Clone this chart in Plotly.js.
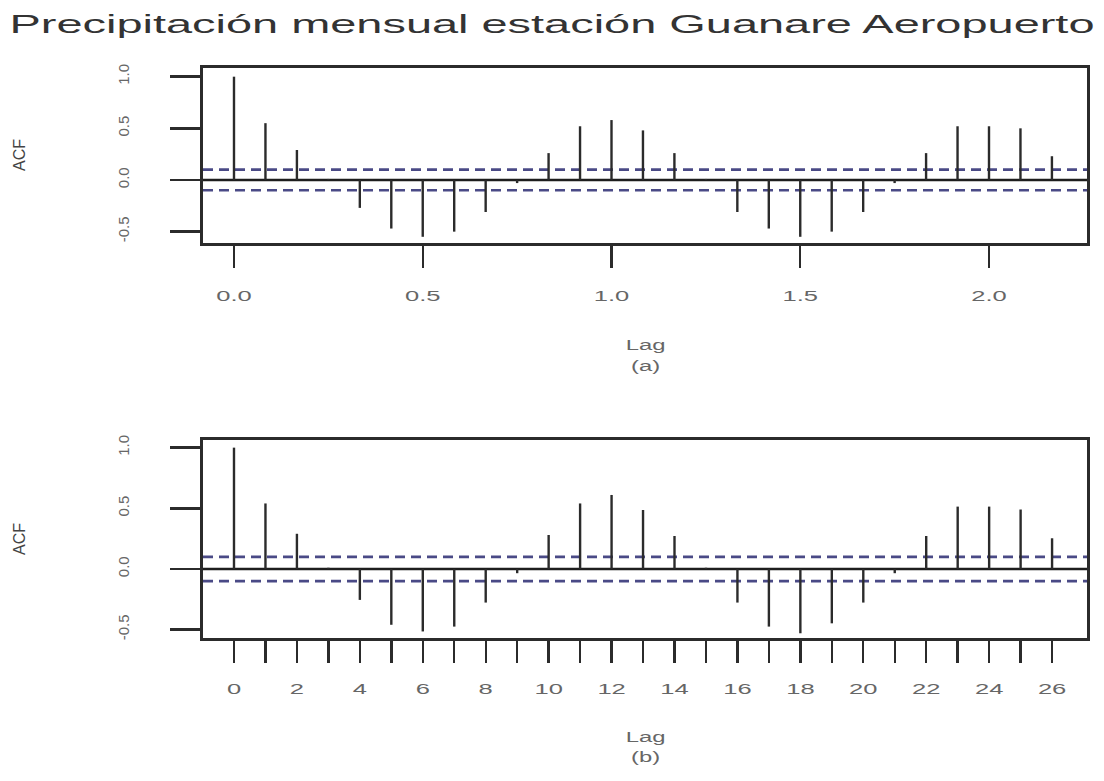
<!DOCTYPE html>
<html>
<head>
<meta charset="utf-8">
<script src="https://cdn.plot.ly/plotly-3.0.1.min.js"></script>
<style>
  html, body { margin: 0; padding: 0; background: #ffffff; }
  #chart { width: 1104px; height: 781px; }
</style>
</head>
<body>
<div id="chart"></div>
<script>
// ---- data ----
const chartTitle = "Precipitación mensual estación Guanare Aeropuerto";
const lagsMonths = [0, 1, 2, 3, 4, 5, 6, 7, 8, 9, 10, 11, 12, 13, 14, 15, 16, 17, 18, 19, 20, 21, 22, 23, 24, 25, 26];
const monthsPerYear = 12;
// panel (a): lag in years
const acfA = [1.00, 0.55, 0.29, 0.01, -0.27, -0.47, -0.55, -0.50, -0.31, -0.03, 0.26, 0.52, 0.58, 0.48, 0.26, 0.01, -0.31, -0.47, -0.55, -0.50, -0.31, -0.03, 0.26, 0.52, 0.52, 0.50, 0.23];
// panel (b): lag in months
const acfB = [1.00, 0.54, 0.29, 0.01, -0.255, -0.46, -0.515, -0.475, -0.277, -0.035, 0.28, 0.54, 0.61, 0.486, 0.272, 0.01, -0.277, -0.475, -0.53, -0.448, -0.277, -0.035, 0.272, 0.514, 0.514, 0.49, 0.253];
const ciA = 0.10;
const ciB = 0.10;
const yTickVals = [-0.5, 0.0, 0.5, 1.0];
const yTickText = ["-0.5", "0.0", "0.5", "1.0"];
const xTickValsA = [0.0, 0.5, 1.0, 1.5, 2.0];
const xTickTextA = ["0.0", "0.5", "1.0", "1.5", "2.0"];
const xTickTextB = lagsMonths.map(l => (l % 2 === 0 ? String(l) : ""));
const xLabel = "Lag";
const yLabel = "ACF";
const panelLabels = ["(a)", "(b)"];

// ---- helpers ----
function spikes(xs, ys) {
  const X = [], Y = [];
  xs.forEach((x, i) => { X.push(x, x, null); Y.push(0, ys[i], null); });
  return { X, Y };
}

const W = 1104, H = 781;
const px = v => v / W;
const py = v => 1 - v / H;

const sA = spikes(lagsMonths.map(l => l / monthsPerYear), acfA);
const sB = spikes(lagsMonths, acfB);

const spikeLine = { color: '#2b2b2b', width: 2.4 };
const data = [
  { type: 'scatter', mode: 'lines', x: sA.X, y: sA.Y, xaxis: 'x', yaxis: 'y', line: spikeLine, hoverinfo: 'skip', showlegend: false },
  { type: 'scatter', mode: 'lines', x: sB.X, y: sB.Y, xaxis: 'x2', yaxis: 'y2', line: spikeLine, hoverinfo: 'skip', showlegend: false }
];

const font = { family: 'Liberation Sans, Arial, sans-serif', color: '#555555' };
const axisLine = { showline: true, linecolor: '#2b2b2b', linewidth: 2.6, mirror: true, showgrid: false, zeroline: false };

const ciStyle = { color: '#4a4a86', width: 2.6, dash: '10px,6px' };
const shapes = [
  { type: 'line', xref: 'x domain', yref: 'y', x0: 0, x1: 1, y0: ciA, y1: ciA, line: ciStyle, layer: 'below' },
  { type: 'line', xref: 'x domain', yref: 'y', x0: 0, x1: 1, y0: -ciA, y1: -ciA, line: ciStyle, layer: 'below' },
  { type: 'line', xref: 'x domain', yref: 'y', x0: 0, x1: 1, y0: 0, y1: 0, line: { color: '#1e1e1e', width: 2.4 }, layer: 'below' },
  { type: 'line', xref: 'x2 domain', yref: 'y2', x0: 0, x1: 1, y0: ciB, y1: ciB, line: ciStyle, layer: 'below' },
  { type: 'line', xref: 'x2 domain', yref: 'y2', x0: 0, x1: 1, y0: -ciB, y1: -ciB, line: ciStyle, layer: 'below' },
  { type: 'line', xref: 'x2 domain', yref: 'y2', x0: 0, x1: 1, y0: 0, y1: 0, line: { color: '#1e1e1e', width: 2.4 }, layer: 'below' }
];

const annFont = { family: 'Liberation Sans, Arial, sans-serif', size: 14, color: '#666666' };
const annotations = [
  { text: yLabel, xref: 'paper', yref: 'paper', x: px(19), y: py(155), showarrow: false, textangle: -90, font: { ...annFont, size: 16, color: '#444' }, xanchor: 'center', yanchor: 'middle' },
  { text: yLabel, xref: 'paper', yref: 'paper', x: px(19), y: py(539), showarrow: false, textangle: -90, font: { ...annFont, size: 16, color: '#444' }, xanchor: 'center', yanchor: 'middle' },
  { text: xLabel, xref: 'paper', yref: 'paper', x: px(645), y: py(345), showarrow: false, font: annFont, xanchor: 'center', yanchor: 'middle' },
  { text: panelLabels[0], xref: 'paper', yref: 'paper', x: px(645), y: py(366), showarrow: false, font: annFont, xanchor: 'center', yanchor: 'middle' },
  { text: xLabel, xref: 'paper', yref: 'paper', x: px(645), y: py(737), showarrow: false, font: annFont, xanchor: 'center', yanchor: 'middle' },
  { text: panelLabels[1], xref: 'paper', yref: 'paper', x: px(645), y: py(757), showarrow: false, font: annFont, xanchor: 'center', yanchor: 'middle' }
];

const tickFont = { family: 'Liberation Sans, Arial, sans-serif', size: 15, color: '#666666' };

const layout = {
  width: W, height: H, autosize: false,
  margin: { l: 0, r: 0, t: 0, b: 0, pad: 0 },
  paper_bgcolor: '#ffffff', plot_bgcolor: '#ffffff',
  font: font,
  showlegend: false,
  title: { text: chartTitle, x: 0.5, xanchor: 'center', xref: 'container', y: 1 - 24 / H, yanchor: 'middle', yref: 'container',
           font: { family: 'Liberation Sans, Arial, sans-serif', size: 25, color: '#333333' } },
  xaxis: { ...axisLine, domain: [px(203), px(1087)], range: [-0.0821, 2.2596], anchor: 'y',
           tickmode: 'array', tickvals: xTickValsA, ticktext: xTickTextA,
           ticks: 'outside', ticklen: 22, tickwidth: 2.4, tickcolor: '#2b2b2b', tickfont: tickFont, ticklabelstandoff: 15 },
  yaxis: { ...axisLine, domain: [py(243), py(68)], range: [-0.61, 1.084], anchor: 'x',
           tickmode: 'array', tickvals: yTickVals, ticktext: yTickText, tickangle: -90,
           ticks: 'outside', ticklen: 30, tickwidth: 2.4, tickcolor: '#2b2b2b', tickfont: tickFont, ticklabelstandoff: 35 },
  xaxis2: { ...axisLine, domain: [px(203), px(1087)], range: [-0.985, 27.11], anchor: 'y2',
            tickmode: 'array', tickvals: lagsMonths, ticktext: xTickTextB,
            ticks: 'outside', ticklen: 22, tickwidth: 2.4, tickcolor: '#2b2b2b', tickfont: tickFont, ticklabelstandoff: 13 },
  yaxis2: { ...axisLine, domain: [py(638), py(440)], range: [-0.569, 1.063], anchor: 'x2',
            tickmode: 'array', tickvals: yTickVals, ticktext: yTickText, tickangle: -90,
            ticks: 'outside', ticklen: 30, tickwidth: 2.4, tickcolor: '#2b2b2b', tickfont: tickFont, ticklabelstandoff: 35 },
  shapes: shapes,
  annotations: annotations
};

// The reference image is stretched horizontally; widen horizontal texts to match.
function widenTexts(gd) {
  const stretch = (el, k) => {
    el.removeAttribute('textLength');
    const w = el.getComputedTextLength();
    if (w > 0) {
      el.setAttribute('textLength', (w * k).toFixed(1));
      el.setAttribute('lengthAdjust', 'spacingAndGlyphs');
    }
  };
  const t = gd.querySelector('.gtitle');
  if (t) { t.setAttribute('textLength', '1085'); t.setAttribute('lengthAdjust', 'spacingAndGlyphs'); }
  gd.querySelectorAll('g.xtick text, g.x2tick text').forEach(el => stretch(el, 1.7));
  gd.querySelectorAll('text.annotation-text').forEach(el => {
    if (el.textContent !== yLabel) stretch(el, 1.7);
  });
}

Plotly.newPlot('chart', data, layout, { staticPlot: true, displayModeBar: false }).then(gd => {
  widenTexts(gd);
  setTimeout(() => widenTexts(gd), 300);
});
</script>
</body>
</html>
